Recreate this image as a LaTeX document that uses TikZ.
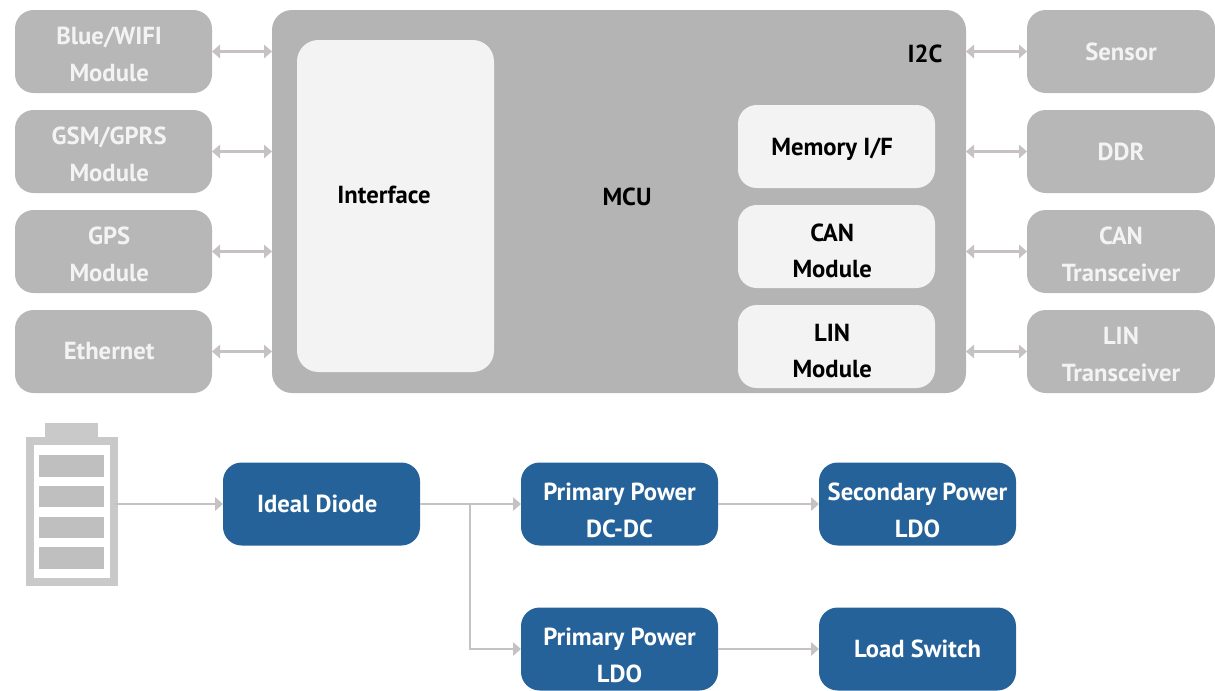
\documentclass[tikz,border=0pt]{standalone}
\usepackage{fontspec}
\setmainfont{PT Sans}
\usetikzlibrary{positioning,arrows.meta}
\definecolor{boxgray}{HTML}{B7B7B7}
\definecolor{mcugray}{HTML}{B4B4B4}
\definecolor{innerwhite}{HTML}{F3F3F3}
\definecolor{powerblue}{HTML}{256299}
\definecolor{wiregray}{HTML}{C6C2C2}
\definecolor{battgray}{HTML}{C9C9C9}
\definecolor{cellgray}{HTML}{BFBFBF}
\newcommand{\lpad}{\kern6.5pt}
\begin{document}
\begin{tikzpicture}[
            x=0.75pt, y=-0.75pt,
            every node/.style={
                rectangle, align=center, inner sep=0pt, outer sep=0pt, font=\fontsize{18.5}{27.5}\selectfont\bfseries
            },
            peripheral/.style={
                fill=boxgray, text=innerwhite, minimum width=147.75pt, minimum height=62.25pt, rounded corners=14pt
            },
            innerbox/.style={
                fill=innerwhite, text=black, minimum width=147.75pt, minimum height=62.25pt, rounded corners=14pt
            },
            powerbox/.style={
                fill=powerblue, text=white, minimum width=147.75pt, minimum height=62.25pt, rounded corners=14pt
            },
            lowered/.style={text height=#1},
            lowered/.default=45pt,
            tag/.style={text=black},
            cell/.style={fill=cellgray, minimum width=48.75pt, minimum height=16pt},
            wire/.style={draw=wiregray, line width=1.8pt, -{Triangle[length=6pt,width=10pt]}},
            buswire/.style={draw=wiregray, line width=1.8pt, {Triangle[length=6pt,width=10pt]}-{Triangle[length=6pt,width=10pt]}}
        ]
        \useasboundingbox (0,0) rectangle (1215,690);

        % MCU block
        \node[fill=mcugray, minimum width=520.5pt, minimum height=287.25pt, rounded corners=15pt] (mcu) at (619,201.5) {};
        \node[fill=innerwhite, minimum width=147.75pt, minimum height=249pt, rounded corners=16pt] (interface) at (395.5,206) {};
        \node[tag] (interfacetext) at (384,195) {Interface};
        \node[tag] (mcutext) at (627,197) {MCU};
        \node[tag] (i2ctext) at (925,54) {I2C};
        \node[innerbox, lowered=17.5pt] (memory) at (836.5,146.5) {Memory I/F\lpad};
        \node[innerbox, lowered=47pt, below=12.75pt of memory] (can) {CAN\lpad\\Module\lpad};
        \node[innerbox, lowered=47pt, below=12.75pt of can] (lin) {LIN\lpad\\Module\lpad};

        % left column
        \node[peripheral, lowered] (wifi) at (113.5,51.5) {Blue/WIFI\lpad\\Module\lpad};
        \node[peripheral, lowered, below=12.75pt of wifi] (gsm) {GSM/GPRS\lpad\\Module\lpad};
        \node[peripheral, lowered, below=12.75pt of gsm] (gps) {GPS\lpad\\Module\lpad};
        \node[peripheral, below=12.75pt of gps] (ethernet) {Ethernet\lpad};

        % right column
        \node[peripheral, minimum width=141pt] (sensor) at (1121,51.5) {Sensor};
        \node[peripheral, minimum width=141pt, below=12.75pt of sensor] (ddr) {DDR};
        \node[peripheral, minimum width=141pt, lowered, below=12.75pt of ddr] (cantrans) {CAN\\Transceiver};
        \node[peripheral, minimum width=141pt, lowered, below=12.75pt of cantrans] (lintrans) {LIN\\Transceiver};

        \draw[buswire] (wifi) -- (mcu.west |- wifi);
        \draw[buswire] (gsm) -- (mcu.west |- gsm);
        \draw[buswire] (gps) -- (mcu.west |- gps);
        \draw[buswire] (ethernet) -- (mcu.west |- ethernet);
        \draw[buswire] (mcu.east |- sensor) -- (sensor);
        \draw[buswire] (mcu.east |- ddr) -- (ddr);
        \draw[buswire] (mcu.east |- cantrans) -- (cantrans);
        \draw[buswire] (mcu.east |- lintrans) -- (lintrans);

        % battery
        \node[fill=battgray, minimum width=39.75pt, minimum height=11pt] (battcap) at (71.5,430) {};
        \node[draw=battgray, line width=6pt, fill=white, minimum width=63pt, minimum height=105.75pt] (battery) at (71.5,511.5) {};
        \node[cell] (cella) at (71.5,466) {};
        \node[cell, below=7pt of cella] (cellb) {};
        \node[cell, below=7pt of cellb] (cellc) {};
        \node[cell, below=7pt of cellc] (celld) {};

        % power chain
        \node[powerbox] (diode) at (321.5,504) {Ideal Diode\lpad};
        \node[powerbox, lowered=50pt, right=75.75pt of diode] (dcdc) {Primary Power\\DC-DC};
        \node[powerbox, lowered=50pt, right=75.75pt of dcdc] (secondary) {Secondary Power\\LDO};
        \node[powerbox, lowered=50pt, below=46.5pt of dcdc] (ldo) {Primary Power\\LDO};
        \node[powerbox, right=75.75pt of ldo] (loadswitch) {Load Switch};
        \coordinate (branch) at (470,504);

        \draw[wire] (battery.east |- diode) -- (diode);
        \draw[wire] (diode) -- (dcdc);
        \draw[wire] (dcdc) -- (secondary);
        \draw[wire] (branch) |- (ldo);
        \draw[wire] (ldo) -- (loadswitch);
    \end{tikzpicture}
\end{document}
